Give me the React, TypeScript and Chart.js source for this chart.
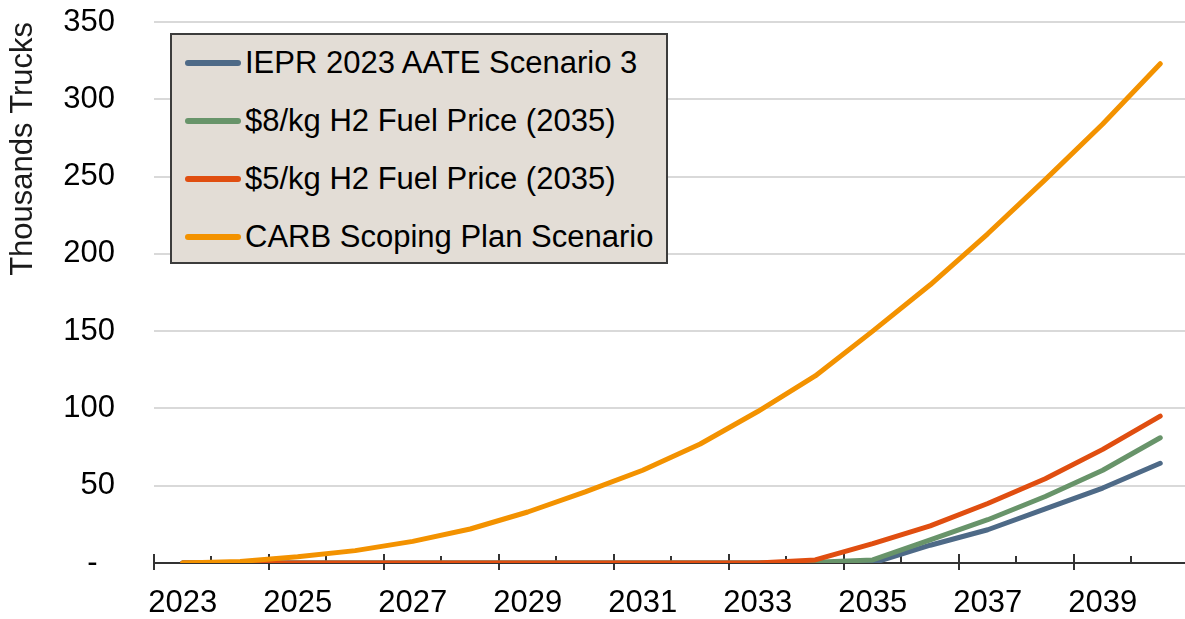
import React, { useEffect, useRef } from "react";
import { Chart, registerables } from "chart.js";

Chart.register(...registerables);

const years = ["2023","2024","2025","2026","2027","2028","2029","2030","2031","2032","2033","2034","2035","2036","2037","2038","2039","2040"];
const ieprScenario3 = [0,0,0,0,0,0,0,0,0,0,0,0,0,11.5,21.5,35,48.5,64.5];
const h2Price8 = [0,0,0,0,0,0,0,0,0,0,0,0.5,2,15,28,43,60,81];
const h2Price5 = [0,0,0,0,0,0,0,0,0,0,0,2,12.5,24,38.5,54.5,73.5,95];
const carbScoping = [0,1,4,8,14,22,33,46,60,77,98,121,150,180,213,248,284,323];
const yTicks = [0,50,100,150,200,250,300,350];

const seriesNames = [
  "IEPR 2023 AATE Scenario 3",
  "$8/kg H2 Fuel Price (2035)",
  "$5/kg H2 Fuel Price (2035)",
  "CARB Scoping Plan Scenario",
];
const seriesColors = ["#4e6a87", "#68946a", "#e04e10", "#f39200"];
const seriesValues = [ieprScenario3, h2Price8, h2Price5, carbScoping];
const drawOrder = [3, 2, 1, 0];

const FONT = "'Liberation Sans', Arial, sans-serif";

const tickMarks = {
  id: "tickMarks",
  beforeDatasetsDraw(chart: any) {
    const xs = chart.scales.x;
    const ctx = chart.ctx;
    const yAxis = chart.chartArea.bottom;
    ctx.save();
    ctx.strokeStyle = "#333333";
    ctx.lineWidth = 2;
    for (let i = 0; i <= years.length; i++) {
      const x = Math.round(xs.getPixelForValue(i - 0.5));
      const major = i % 2 === 0;
      ctx.beginPath();
      ctx.moveTo(x, yAxis - (major ? 9 : 7));
      ctx.lineTo(x, yAxis + (major ? 7 : 0));
      ctx.stroke();
    }
    ctx.restore();
  },
};

export default function App() {
  const ref = useRef<HTMLCanvasElement | null>(null);

  useEffect(() => {
    document.body.style.margin = "0";
    document.body.style.overflow = "hidden";
    const chart = new Chart(ref.current as HTMLCanvasElement, {
      type: "line",
      data: {
        labels: years,
        datasets: seriesNames.map((name, i) => ({
          label: name,
          data: seriesValues[i],
          borderColor: seriesColors[i],
          backgroundColor: seriesColors[i],
          borderWidth: 5,
          pointRadius: 0,
          tension: 0,
          borderCapStyle: "round",
          borderJoinStyle: "round",
          order: drawOrder[i],
        })),
      },
      options: {
        animation: false,
        responsive: false,
        maintainAspectRatio: false,
        layout: { padding: { left: 0, right: 0, top: 22, bottom: 0 } },
        plugins: {
          legend: { display: false },
          tooltip: { enabled: false },
        },
        scales: {
          x: {
            type: "category",
            offset: true,
            grid: {
              display: true,
              drawOnChartArea: false,
              drawTicks: true,
              tickLength: 25,
              tickColor: "rgba(0,0,0,0)",
              offset: true,
            },
            border: { display: true, color: "#333333", width: 2 },
            ticks: {
              autoSkip: false,
              maxRotation: 0,
              minRotation: 0,
              padding: 0,
              color: "#000000",
              font: { family: FONT, size: 31, lineHeight: 1.0 },
              callback: (_v: any, idx: number) => (idx % 2 === 0 ? years[idx] : ""),
            },
          },
          y: {
            min: 0,
            max: 350,
            afterBuildTicks: (axis: any) => {
              axis.ticks = yTicks.map((v) => ({ value: v }));
            },
            grid: {
              color: "#d9d9d9",
              lineWidth: 2,
              drawTicks: true,
              tickLength: 39,
              tickColor: "rgba(0,0,0,0)",
            },
            border: { display: false },
            ticks: {
              padding: 0,
              color: "#000000",
              font: { family: FONT, size: 31, lineHeight: 1.0 },
              callback: (v: any) => (v === 0 ? "-  " : String(v)),
            },
            title: {
              display: true,
              text: "Thousands Trucks",
              align: "end",
              color: "#1a1a1a",
              font: { family: FONT, size: 31, lineHeight: 1.2 },
              padding: { top: 5, bottom: 21 },
            },
          },
        },
      },
      plugins: [tickMarks],
    } as any);
    return () => chart.destroy();
  }, []);

  return (
    <div style={{ position: "fixed", left: 0, top: 0, width: 1185, height: 619, overflow: "hidden", background: "#fff" }}>
      <canvas ref={ref} width={1189} height={619} style={{ position: "absolute", left: 0, top: 0, width: 1189, height: 619 }} />
      <div
        style={{
          position: "absolute",
          left: 170,
          top: 33,
          width: 498,
          height: 231,
          boxSizing: "border-box",
          background: "#e3ddd6",
          border: "2px solid #3c3c3c",
          fontFamily: FONT,
          fontSize: 31,
          color: "#000",
        }}
      >
        {seriesNames.map((name, i) => (
          <div key={name} style={{ position: "absolute", left: 0, top: 28 + i * 58 - 18, height: 36, width: 490 }}>
            <div
              style={{
                position: "absolute",
                left: 13,
                top: 15,
                width: 56,
                height: 6,
                borderRadius: 3,
                background: seriesColors[i],
              }}
            />
            <span style={{ position: "absolute", left: 73, top: 0, lineHeight: "36px", whiteSpace: "nowrap" }}>{name}</span>
          </div>
        ))}
      </div>
    </div>
  );
}
